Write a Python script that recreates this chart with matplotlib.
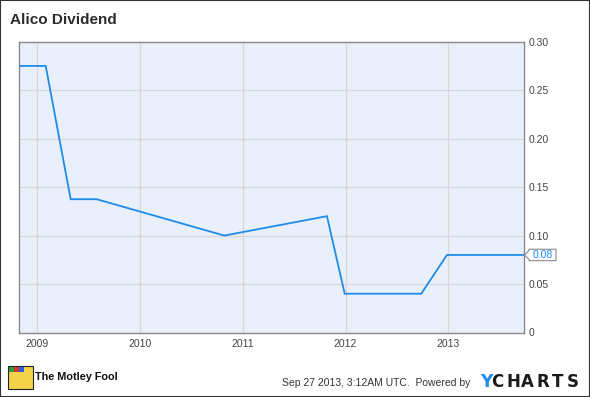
import matplotlib
matplotlib.use("Agg")
import matplotlib.pyplot as plt
from matplotlib.patches import Rectangle, Polygon

plt.rcParams['font.family'] = ['Liberation Sans', 'DejaVu Sans']

# data (x in fractional years)
dates = [2008.822, 2009.082, 2009.325, 2009.578, 2010.820, 2011.819, 2011.992, 2012.737, 2012.987, 2013.737]
dividend = [0.275, 0.275, 0.1375, 0.1375, 0.10, 0.12, 0.04, 0.04, 0.08, 0.08]
year_ticks = [2009, 2010, 2011, 2012, 2013]
y_ticks = [0, 0.05, 0.10, 0.15, 0.20, 0.25, 0.30]
y_labels = ["0", "0.05", "0.10", "0.15", "0.20", "0.25", "0.30"]
last_label = "0.08"

W, H = 590, 397
fig = plt.figure(figsize=(W / 100, H / 100), dpi=100)
fig.patch.set_facecolor("white")

L, R, T, B = 19, 524, 41.7, 332.5
ax = fig.add_axes([L / W, 1 - B / H, (R - L) / W, (B - T) / H])
ax.set_facecolor("#eaf0fb")
ax.plot(dates, dividend, color="#1f8bea", lw=1.3, solid_joinstyle="miter", zorder=3)
ax.set_xlim(2008.822, 2013.737)
ax.set_ylim(0, 0.30)
ax.set_xticks(year_ticks)
ax.set_xticklabels([str(y) for y in year_ticks])
ax.set_yticks(y_ticks)
ax.set_yticklabels(y_labels)
ax.yaxis.tick_right()
ax.grid(True, color="#d6d6d6", lw=0.9)
ax.set_axisbelow(True)
for s in ax.spines.values():
    s.set_color("#8a8a8a")
    s.set_linewidth(1.0)
ax.tick_params(length=0, labelsize=7.5, colors="#444444", pad=3)
ax.tick_params(axis="x", pad=5)

# last value callout
px = 1 / (R - L)
py = 1 / (B - T)
yl = dividend[-1] / 0.30
top = yl + 5.7 * py
bot = yl - 5.7 * py
poly = Polygon([(1 + 0.5 * px, yl), (1 + 5 * px, yl + 4.5 * py), (1 + 5 * px, top), (1 + 32 * px, top),
                (1 + 32 * px, bot), (1 + 5 * px, bot), (1 + 5 * px, yl - 4.5 * py)],
               closed=True, transform=ax.transAxes, fc="white", ec="#8a8a8a", lw=0.8, clip_on=False, zorder=5)
ax.add_patch(poly)
ax.text(1 + 8.5 * px, yl, last_label, transform=ax.transAxes, ha="left", va="center",
        fontsize=7.5, color="#1a8cff", clip_on=False, zorder=6)

# title
fig.text(10 / W, 1 - 20.5 / H, "Alico Dividend", fontsize=11, fontweight="bold", color="#2b2b2b",
         ha="left", va="center")

# footer: logo
fig.patches.append(Rectangle((8 / W, 1 - 389 / H), 25 / W, 23 / H, transform=fig.transFigure,
                             fc="#f4d24a", ec="#222222", lw=0.8))
fig.patches.append(Rectangle((9 / W, 1 - 372 / H), 5 / W, 5 / H, transform=fig.transFigure,
                             fc="#2a9d3a", ec="none"))
fig.patches.append(Rectangle((14 / W, 1 - 372 / H), 5 / W, 5 / H, transform=fig.transFigure,
                             fc="#d9342b", ec="none"))
fig.patches.append(Rectangle((19 / W, 1 - 372 / H), 5 / W, 5 / H, transform=fig.transFigure,
                             fc="#2a5bd9", ec="none"))
fig.text(35 / W, 1 - 377.5 / H, "The Motley Fool", fontsize=7.8, fontweight="bold", color="#111111",
         ha="left", va="center")

fig.text(470 / W, 1 - 383 / H, "Sep 27 2013, 3:12AM UTC.  Powered by", fontsize=7.5, color="#333333",
         ha="right", va="center")
fig.text(480 / W, 1 - 382 / H, "Y", fontsize=12.5, fontweight="heavy", color="#1f8bea", ha="left", va="center",
         family=["DejaVu Sans"])
for i, ch in enumerate("CHARTS"):
    fig.text((491 + i * 15.2) / W, 1 - 382 / H, ch, fontsize=12, fontweight="bold", color="#1a1a1a",
             ha="left", va="center", family=["DejaVu Sans"])

# outer border
fig.patches.append(Rectangle((0, 0), 1, 1, transform=fig.transFigure, fill=False, ec="#333333", lw=1.5))

fig.savefig("out.png", dpi=100)
